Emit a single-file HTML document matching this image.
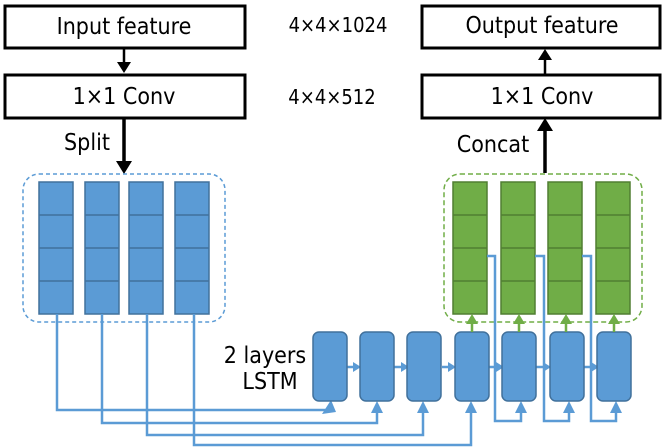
<!DOCTYPE html>
<html><head><meta charset="utf-8"><style>
body{margin:0;background:#fff}
svg{display:block}
text{font-family:"DejaVu Sans Condensed","Liberation Sans",sans-serif;}
</style></head><body>
<svg width="664" height="448" viewBox="0 0 664 448" xmlns="http://www.w3.org/2000/svg">
<g fill="#fff" stroke="#000" stroke-width="3">
<rect x="5" y="6" width="240" height="42"/>
<rect x="5" y="75" width="240" height="43"/>
<rect x="422" y="6" width="238" height="42"/>
<rect x="422" y="75" width="238" height="43"/>
</g>
<g font-size="23" text-anchor="middle" dominant-baseline="central" fill="#000">
<text x="124" y="27">Input feature</text>
<text x="124" y="97">1×1 Conv</text>
<text x="542" y="26">Output feature</text>
<text x="542" y="97">1×1 Conv</text>
<text x="338" y="25" font-size="20">4×4×1024</text>
<text x="332" y="97" font-size="20">4×4×512</text>
<text x="87" y="143">Split</text>
<text x="493" y="145">Concat</text>
<text x="265" y="356">2 layers</text>
<text x="270" y="382">LSTM</text>
</g>
<g stroke="#000" fill="none">
<line x1="124" y1="48" x2="124" y2="64" stroke-width="2.5"/>
<path d="M117,62 L131,62 L124,73z" fill="#000" stroke="none"/>
<line x1="124" y1="118" x2="124" y2="163" stroke-width="3.5"/>
<path d="M116,161 L132,161 L124,174z" fill="#000" stroke="none"/>
<line x1="545" y1="173" x2="545" y2="128" stroke-width="3.5"/>
<path d="M537,131 L553,131 L545,118z" fill="#000" stroke="none"/>
<line x1="545" y1="75" x2="545" y2="58" stroke-width="2.5"/>
<path d="M538,60 L552,60 L545,49z" fill="#000" stroke="none"/>
</g>
<rect x="23" y="174" width="202" height="148" rx="16" fill="none" stroke="#5b9bd5" stroke-width="1.5" stroke-dasharray="4,3"/>
<rect x="444" y="174" width="198" height="148" rx="16" fill="none" stroke="#70ad47" stroke-width="1.5" stroke-dasharray="5,3"/>
<g stroke="#41719c" stroke-width="1.5" fill="#5b9bd5">
<rect x="39" y="182" width="34" height="132"/><rect x="85" y="182" width="34" height="132"/><rect x="129" y="182" width="34" height="132"/><rect x="175" y="182" width="34" height="132"/>
</g>
<g stroke="#41719c" stroke-width="1.5">
<path d="M39,215H73M39,248H73M39,281H73M85,215H119M85,248H119M85,281H119M129,215H163M129,248H163M129,281H163M175,215H209M175,248H209M175,281H209"/>
</g>
<g stroke="#507e32" stroke-width="1.5" fill="#70ad47">
<rect x="453" y="182" width="34" height="132"/><rect x="501" y="182" width="34" height="132"/><rect x="548" y="182" width="34" height="132"/><rect x="596" y="182" width="34" height="132"/>
</g>
<g stroke="#507e32" stroke-width="1.5">
<path d="M453,215H487M453,248H487M453,281H487M501,215H535M501,248H535M501,281H535M548,215H582M548,248H582M548,281H582M596,215H630M596,248H630M596,281H630"/>
</g>
<g stroke="#5b9bd5" stroke-width="2.5" fill="none">
<path d="M487,256H495V421H521V410"/>
<path d="M535,256H544V421H569V410"/>
<path d="M582,256H591V421H616V410"/>
<path d="M57,314V410H329V410"/>
<path d="M102,314V423H377V410"/>
<path d="M147,314V435H423V410"/>
<path d="M194,314V445H471V410"/>
<path d="M347,367H356M394,367H404M442,367H451M489,367H499M536,367H546M583,367H594"/>
</g>
<g fill="#5b9bd5">
<path d="M322,414L336,412L331,400z"/>
<path d="M371,413L383,413L377,401z"/>
<path d="M417,413L429,413L423,401z"/>
<path d="M465,413L477,413L471,401z"/>
<path d="M515,413L527,413L521,401z"/>
<path d="M563,413L575,413L569,401z"/>
<path d="M610,413L622,413L616,401z"/>
<path d="M353,362L361,367L353,372z"/>
<path d="M401,362L409,367L401,372z"/>
<path d="M448,362L456,367L448,372z"/>
<path d="M496,362L504,367L496,372z"/>
<path d="M543,362L551,367L543,372z"/>
<path d="M591,362L599,367L591,372z"/>
</g>
<g stroke="#41719c" stroke-width="1.5" fill="#5b9bd5">
<rect x="313" y="332" width="34" height="69" rx="6"/>
<rect x="360" y="332" width="34" height="69" rx="6"/>
<rect x="407" y="332" width="34" height="69" rx="6"/>
<rect x="455" y="332" width="34" height="69" rx="6"/>
<rect x="502" y="332" width="34" height="69" rx="6"/>
<rect x="550" y="332" width="34" height="69" rx="6"/>
<rect x="597" y="332" width="34" height="69" rx="6"/>
</g>
<g stroke="#70ad47" stroke-width="2.5" fill="none">
<path d="M472,332V322M519,332V322M566,332V322M614,332V322"/>
</g>
<g fill="#70ad47">
<path d="M466,324L478,324L472,314z"/>
<path d="M513,324L525,324L519,314z"/>
<path d="M560,324L572,324L566,314z"/>
<path d="M608,324L620,324L614,314z"/>
</g>
</svg>
</body></html>
